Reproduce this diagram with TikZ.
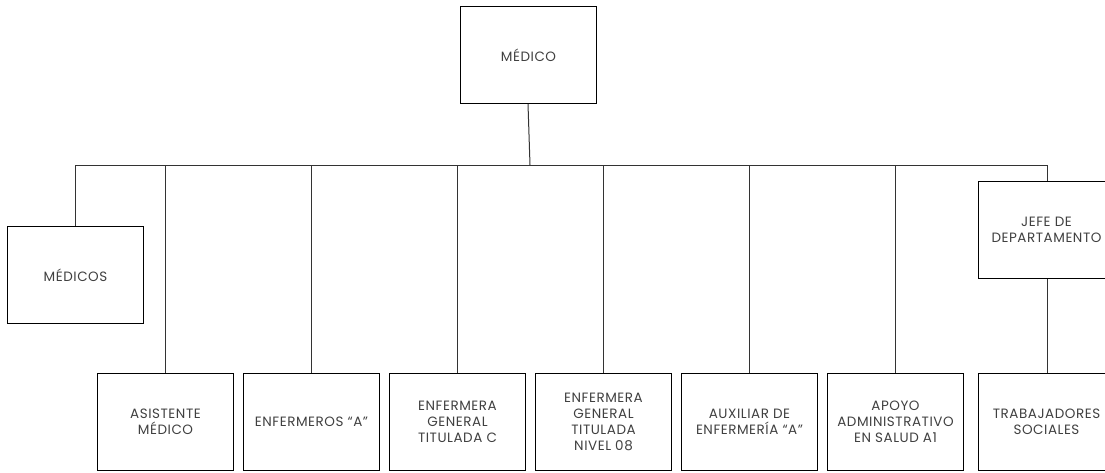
\documentclass[tikz,border=0pt]{standalone}
\usepackage{fontspec}
\setmainfont[LetterSpace=4]{Poppins}
\begin{document}
\begin{tikzpicture}[x=1pt,y=-1pt,
  box/.style={draw=black, line width=1pt, minimum width=136pt, minimum height=97pt, inner sep=0pt, anchor=north west, text=black!75, font=\fontsize{13.5}{16}\selectfont, align=center},
  conn/.style={draw=black!80, line width=1pt}]
\useasboundingbox (0,0) rectangle (1105,472);
\begin{scope}
\clip (0,0) rectangle (1105,472);
\node[box] (top) at (460,6) {MÉDICO};
\node[box] (med) at (7,226) {MÉDICOS};
\node[box] (b1) at (97,373) {ASISTENTE\\MÉDICO};
\node[box] (b2) at (243,373) {ENFERMEROS “A”};
\node[box] (b3) at (389,373) {ENFERMERA\\GENERAL\\TITULADA C};
\node[box] (b4) at (535,373) {ENFERMERA\\GENERAL\\TITULADA\\NIVEL 08};
\node[box] (b5) at (681,373) {AUXILIAR DE\\ENFERMERÍA “A”};
\node[box] (b6) at (827,373) {APOYO\\ADMINISTRATIVO\\EN SALUD A1};
\node[box] (jefe) at (978,181) {JEFE DE\\DEPARTAMENTO};
\node[box] (b7) at (978,373) {TRABAJADORES\\SOCIALES};
\coordinate (bl) at (75,165);
\coordinate (br) at (1047,165);
\coordinate (bm) at (530,165);
\draw[conn] (top.south -| 528,0) -- (bm);
\draw[conn] (med.north -| bl) -- (bl) -- (br) -- (jefe.north -| br);
\foreach \n in {b1,b2,b3,b4,b5,b6} \draw[conn] (\n.north) -- (\n.north |- bl);
\draw[conn] (jefe.south -| br) -- (b7.north -| br);
\end{scope}
\end{tikzpicture}
\end{document}
